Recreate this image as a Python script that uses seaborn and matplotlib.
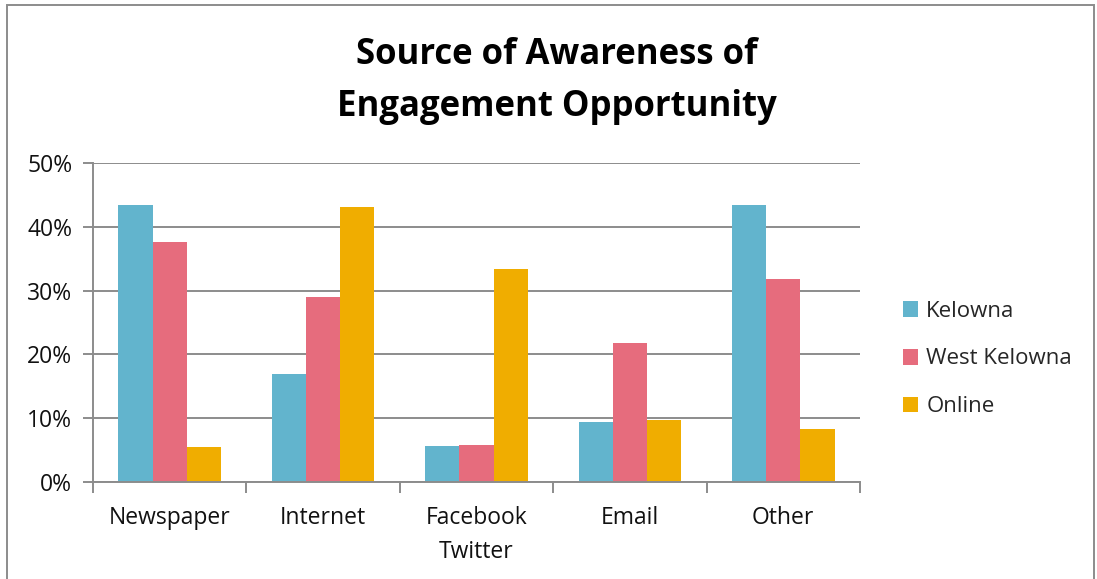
import matplotlib
matplotlib.use("Agg")
import matplotlib.pyplot as plt
from matplotlib.patches import Rectangle, Patch
from matplotlib.ticker import FixedLocator, PercentFormatter
import seaborn as sns
import pandas as pd

categories = ["Newspaper", "Internet", "Facebook\nTwitter", "Email", "Other"]
series_names = ["Kelowna", "West Kelowna", "Online"]
kelowna = [43.4, 16.9, 5.6, 9.4, 43.4]
west_kelowna = [37.6, 29.0, 5.8, 21.8, 31.8]
online = [5.5, 43.1, 33.4, 9.7, 8.3]
colors = ["#62B4CD", "#E66C7D", "#F0AD00"]

rows = []
for name, vals in zip(series_names, [kelowna, west_kelowna, online]):
    for cat, v in zip(categories, vals):
        rows.append({"Source": cat, "Group": name, "Share": v})
df = pd.DataFrame(rows)

sns.set_theme(style="white")
plt.rcParams["font.family"] = ["Open Sans", "DejaVu Sans"]

W, H = 1097, 579
fig = plt.figure(figsize=(W / 100, H / 100), dpi=100)
ax = fig.add_axes([93 / W, 1 - 482 / H, (860 - 93) / W, (482 - 163) / H])

sns.barplot(data=df, x="Source", y="Share", hue="Group", order=categories,
            hue_order=series_names, palette=colors, saturation=1, width=0.67,
            linewidth=0, errorbar=None, legend=False, ax=ax)

grid_c = "#8c8c8c"
ax.set_ylim(0, 50)
ax.set_xlim(-0.5, len(categories) - 0.5)
ax.set_yticks([0, 10, 20, 30, 40, 50])
ax.yaxis.set_major_formatter(PercentFormatter(decimals=0))
ax.yaxis.grid(True, color=grid_c, linewidth=1.4)
ax.set_axisbelow(True)
ax.set_xlabel("")
ax.set_ylabel("")

for s in ["top", "right"]:
    ax.spines[s].set_visible(False)
for s in ["left", "bottom"]:
    ax.spines[s].set_color(grid_c)
    ax.spines[s].set_linewidth(1.4)

ax.tick_params(axis="y", which="major", length=7, width=1.4, color=grid_c,
               labelsize=16.5, labelcolor="#111111", pad=8, left=True)
ax.tick_params(axis="x", which="major", length=0, labelsize=16.5,
               labelcolor="#111111", pad=17)
for lbl in ax.get_xticklabels():
    lbl.set_linespacing(1.55)
ax.xaxis.set_minor_locator(FixedLocator([i - 0.5 for i in range(len(categories) + 1)]))
ax.tick_params(axis="x", which="minor", length=8, width=1.4, color=grid_c, bottom=True)

fig.text(557 / W, 1 - 81 / H, "Source of Awareness of\nEngagement Opportunity",
         ha="center", va="center", fontsize=25, fontweight="bold",
         color="#000000", linespacing=1.6)

handles = [Patch(facecolor=c, edgecolor="none") for c in colors]
fig.legend(handles, series_names, loc="center left",
           bbox_to_anchor=(894 / W, 1 - 359 / H), frameon=False, fontsize=16,
           handlelength=0.7, handleheight=0.7, handletextpad=0.35,
           labelspacing=1.2, borderaxespad=0)

fig.patches.append(Rectangle((7 / W, -0.05), (1094 - 7) / W, 1 - 5 / H + 0.05,
                             transform=fig.transFigure, fill=False,
                             edgecolor="#8c8c8c", linewidth=1.4))

fig.savefig("out.png", dpi=100, facecolor="white")
